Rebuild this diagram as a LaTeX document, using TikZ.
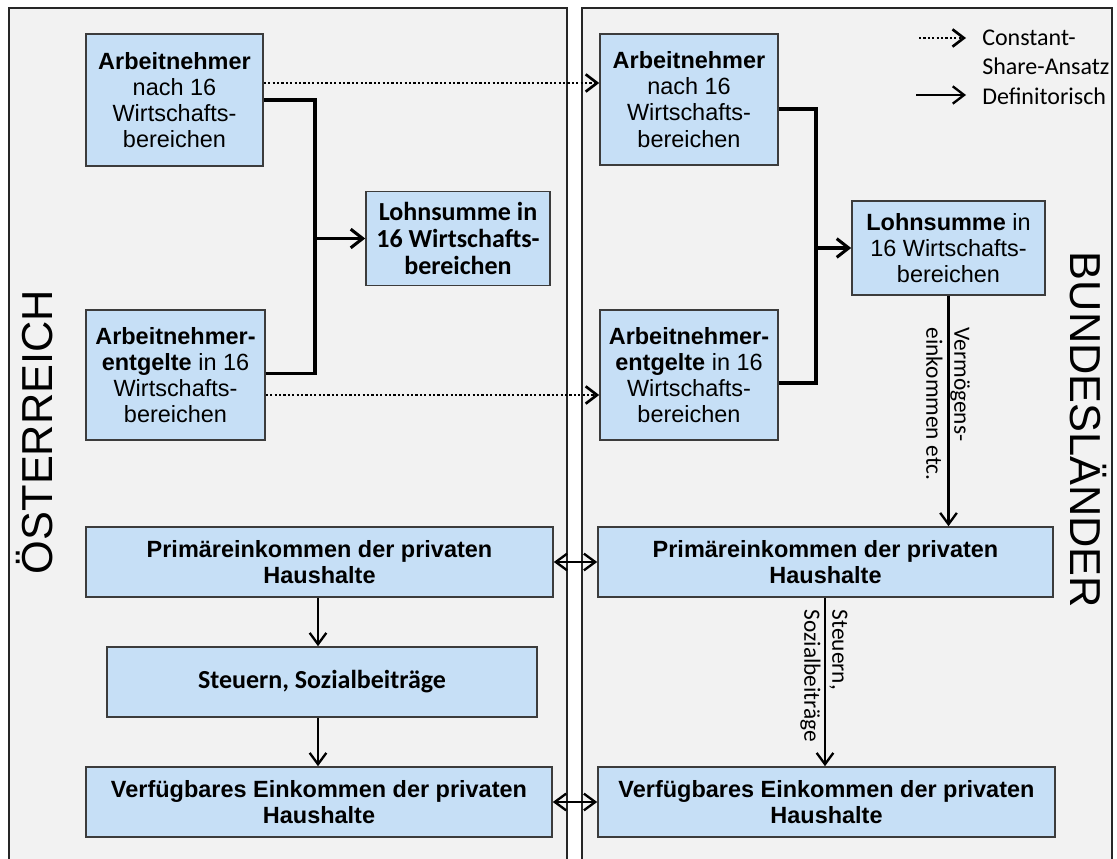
\documentclass[tikz,border=0pt]{standalone}
\usepackage{fontspec}
\setmainfont{Liberation Sans}
\newfontfamily\calib{Carlito}
\usetikzlibrary{arrows.meta,calc}
\newdimen\px \px=0.75pt
\definecolor{panelbg}{RGB}{242,242,242}
\definecolor{boxfill}{RGB}{198,223,246}
\definecolor{boxline}{RGB}{60,60,60}
\tikzset{
  panel/.style={line width=1.1pt, draw=black!85},
  box/.style={draw=boxline, fill=boxfill, line width=1.2pt, align=center, inner sep=0pt,
              font=\fontsize{17.6}{19.6}\selectfont},
  bbox/.style={box, font=\bfseries\fontsize{17.6}{19.6}\selectfont},
  cbox/.style={box, font=\calib\bfseries\fontsize{19.5}{20}\selectfont},
  tip/.style={-{Straight Barb[length=8.5pt,width=12.5pt]}},
  bracket/.style={line width=2.3pt, line join=miter},
  conn/.style={line width=1.75pt, tip},
  thickconn/.style={line width=2.3pt, -{Straight Barb[length=9pt,width=14pt]}},
  dotconn/.style={line width=2pt, dash pattern=on 1.7pt off 1.6pt, -{Straight Barb[length=8.5pt,width=13pt]}},
  dblconn/.style={line width=1.75pt, {Straight Barb[length=8.5pt,width=12.5pt]}-{Straight Barb[length=8.5pt,width=12.5pt]}},
  arrowlabel/.style={font=\calib\fontsize{17.5}{21}\selectfont, align=left, inner sep=0pt},
  bigtitle/.style={font=\fontsize{32.5}{34}\selectfont, inner sep=0pt},
  legendtext/.style={font=\calib\fontsize{18}{21.5}\selectfont, align=left, inner sep=0pt, anchor=west}
}
\begin{document}
\begin{tikzpicture}[x=0.75pt,y=-0.75pt]
\useasboundingbox (0,0) rectangle (1117,859);
% panels
\fill[panelbg] (9,8) rectangle (567,859);
\draw[panel] (9,859) -- (9,8) -- (567,8) -- (567,859);
\fill[panelbg] (582,8) rectangle (1112,859);
\draw[panel] (582,859) -- (582,8) -- (1112,8) -- (1112,859);

% titles
\node[bigtitle, rotate=90] (tA) at (35,432) {ÖSTERREICH};
\node[bigtitle, rotate=-90] (tB) at (1088,430) {BUNDESLÄNDER};

% left boxes
\node[box, minimum width=177\px, minimum height=132\px] (L1) at (174.5,100)
  {\textbf{Arbeitnehmer}\\nach 16\\Wirtschafts-\\bereichen};
\node[cbox, minimum width=184\px, minimum height=94\px] (L2) at (458,238.5)
  {Lohnsumme in\\16 Wirtschafts-\\bereichen};
\node[box, minimum width=179\px, minimum height=130\px] (L3) at (175.5,375)
  {\textbf{Arbeitnehmer-}\\\textbf{entgelte} in 16\\Wirtschafts-\\bereichen};
\node[bbox, minimum width=467\px, minimum height=70\px] (L4) at (319.5,562)
  {Primäreinkommen der privaten\\Haushalte};
\node[cbox, minimum width=430\px, minimum height=70\px] (L5) at (322,682)
  {Steuern, Sozialbeiträge};
\node[bbox, minimum width=466\px, minimum height=70\px] (L6) at (319,802)
  {Verfügbares Einkommen der privaten\\Haushalte};

% right boxes
\node[box, minimum width=178\px, minimum height=131\px] (R1) at (689,99.5)
  {\textbf{Arbeitnehmer}\\nach 16\\Wirtschafts-\\bereichen};
\node[box, minimum width=193\px, minimum height=94\px] (R2) at (948.5,248)
  {\textbf{Lohnsumme} in\\16 Wirtschafts-\\bereichen};
\node[box, minimum width=178\px, minimum height=130\px] (R3) at (689,375)
  {\textbf{Arbeitnehmer-}\\\textbf{entgelte} in 16\\Wirtschafts-\\bereichen};
\node[bbox, minimum width=455\px, minimum height=70\px] (R4) at (825.5,562)
  {Primäreinkommen der privaten\\Haushalte};
\node[bbox, minimum width=457\px, minimum height=70\px] (R6) at (826.5,802)
  {Verfügbares Einkommen der privaten\\Haushalte};

% left bracket connectors
\coordinate (jl) at (315,238.5);
\draw[bracket] (L1.east) -| (jl) |- ([yshift=1.5\px]L3.east);
\draw[thickconn] (jl) -- (L2.west);

% right bracket connectors
\coordinate (jr) at (816,248);
\draw[bracket] ([yshift=-9.5\px]R1.east) -| (jr) |- ([yshift=-8\px]R3.east);
\draw[thickconn] (jr) -- (R2.west);

% dotted constant-share connectors
\coordinate (d1) at ([yshift=17\px]L1.east);
\draw[dotconn] (d1) -- (d1 -| R1.west);
\coordinate (d2) at ([yshift=-20\px]L3.east);
\draw[dotconn] (d2) -- (d2 -| R3.west);

% vertical arrows
\draw[conn] (R2.south) -- (R2.south |- R4.north);
\node[arrowlabel, rotate=-90] (lv) at (948,404) {Vermögens-\\einkommen etc.};
\draw[conn] (L4.south -| 318,0) -- (L5.north -| 318,0);
\draw[conn] (L5.south -| 318,0) -- (L6.north -| 318,0);
\draw[conn] (R4.south -| 825,0) -- (R6.north -| 825,0);
\node[arrowlabel, rotate=-90] (ls) at (824,676) {Steuern,\\Sozialbeiträge};

% double arrows
\draw[dblconn] (L4.east) -- (R4.west);
\draw[dblconn] (L6.east) -- (R6.west);

% legend
\node[legendtext] (lg1) at (982,52) {Constant-\\Share-Ansatz};
\node[legendtext] (lg2) at (982,96) {Definitorisch};
\coordinate (lga) at (919,38);
\coordinate (lgb) at (966,38);
\draw[dotconn] (lga) -- (lgb);
\coordinate (lgc) at (916,95);
\coordinate (lgd) at (966,95);
\draw[line width=1.75pt, -{Straight Barb[length=8.5pt,width=13pt]}] (lgc) -- (lgd);
\end{tikzpicture}
\end{document}
